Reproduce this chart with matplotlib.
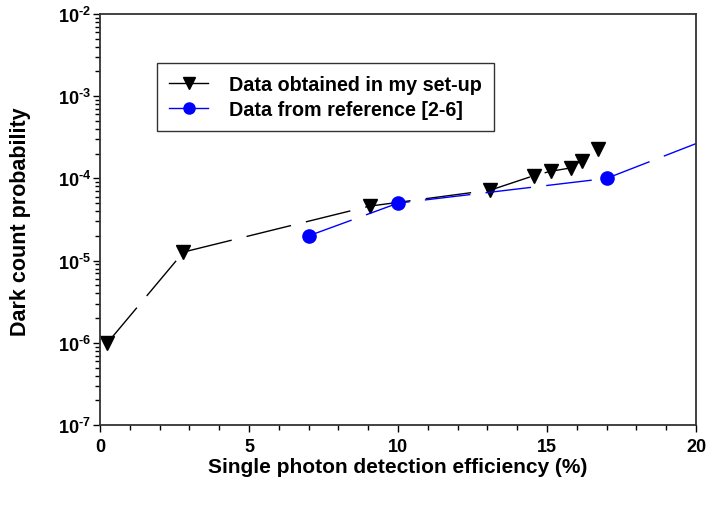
import matplotlib
matplotlib.use("Agg")
import numpy as np
import matplotlib.pyplot as plt
from matplotlib.ticker import LogLocator, MultipleLocator, FuncFormatter

plt.rcParams['font.family'] = ['Liberation Sans', 'DejaVu Sans']
plt.rcParams['font.weight'] = 'bold'
plt.rcParams['mathtext.fontset'] = 'custom'
plt.rcParams['mathtext.rm'] = 'Liberation Sans:bold'
plt.rcParams['mathtext.bf'] = 'Liberation Sans:bold'
plt.rcParams['mathtext.default'] = 'bf'

# Data
my_eff = [0.25, 2.8, 9.05, 13.1, 14.56, 15.12, 15.79, 16.16, 16.71]
my_dcp = [1.0e-6, 1.27e-5, 4.6e-5, 7.2e-5, 1.08e-4, 1.22e-4, 1.34e-4, 1.65e-4, 2.28e-4]
ref_eff = [7.0, 10.0, 17.0, 20.0]
ref_dcp = [2.0e-5, 5.0e-5, 1.0e-4, 2.65e-4]
ref_marked = [0, 1, 2]

fig = plt.figure(figsize=(7.09, 5.10), dpi=100)
ax = fig.add_axes([100/709, 1-426/510, 596/709, 411/510])

ax.plot(my_eff, my_dcp, color='black', lw=1.0, dashes=(33, 11), marker='v',
        markersize=10, markerfacecolor='black', markeredgecolor='black',
        label='Data obtained in my set-up')
ax.plot(ref_eff, ref_dcp, color='blue', lw=1.0, dashes=(33, 11), marker='o',
        markersize=9.5, markerfacecolor='blue', markeredgecolor='blue',
        markevery=ref_marked, label='Data from reference [2-6]')

ax.set_yscale('log')
ax.set_xlim(0, 20)
ax.set_ylim(1e-7, 1e-2)
ax.xaxis.set_major_locator(MultipleLocator(5))
ax.xaxis.set_minor_locator(MultipleLocator(1))
ax.yaxis.set_major_locator(LogLocator(base=10, numticks=10))
ax.yaxis.set_minor_locator(LogLocator(base=10, subs=range(2, 10), numticks=20))


def logfmt(v, pos):
    n = int(round(np.log10(v)))
    if n < 0:
        return r'$10^{\text{-}%d}$' % (-n)
    return r'$10^{%d}$' % n


ax.yaxis.set_major_formatter(FuncFormatter(logfmt))
ax.tick_params(axis='both', which='major', direction='out', length=5, width=1,
               labelsize=13, top=False, right=False)
ax.tick_params(axis='x', which='major', pad=4)
ax.tick_params(axis='y', which='major', pad=1.5)
ax.tick_params(axis='both', which='minor', direction='out', length=3.5, width=1,
               top=False, right=False)
for lab in ax.get_xticklabels() + ax.get_yticklabels():
    lab.set_fontweight('bold')
for s in ax.spines.values():
    s.set_color('#333333')
    s.set_linewidth(1.3)

fig.text(398/709, 1-468/510, 'Single photon detection efficiency (%)', fontsize=15,
         fontweight='bold', ha='center', va='center')
fig.text(21/709, 1-222/510, 'Dark count probability', fontsize=15.5,
         fontweight='bold', ha='center', va='center', rotation=90)

leg = ax.legend(loc='upper left', bbox_to_anchor=(57/596, 1-49/411), fontsize=14.2,
                frameon=True, fancybox=False, edgecolor='black', handlelength=2.0,
                borderpad=0.6, labelspacing=0.3, handletextpad=1.05, borderaxespad=0)
leg.get_frame().set_linewidth(1.0)
for h in leg.get_lines():
    h.set_markersize(8)
    h.set_linestyle('-')
for t in leg.get_texts():
    t.set_fontweight('bold')

fig.savefig('out.png', dpi=100)
